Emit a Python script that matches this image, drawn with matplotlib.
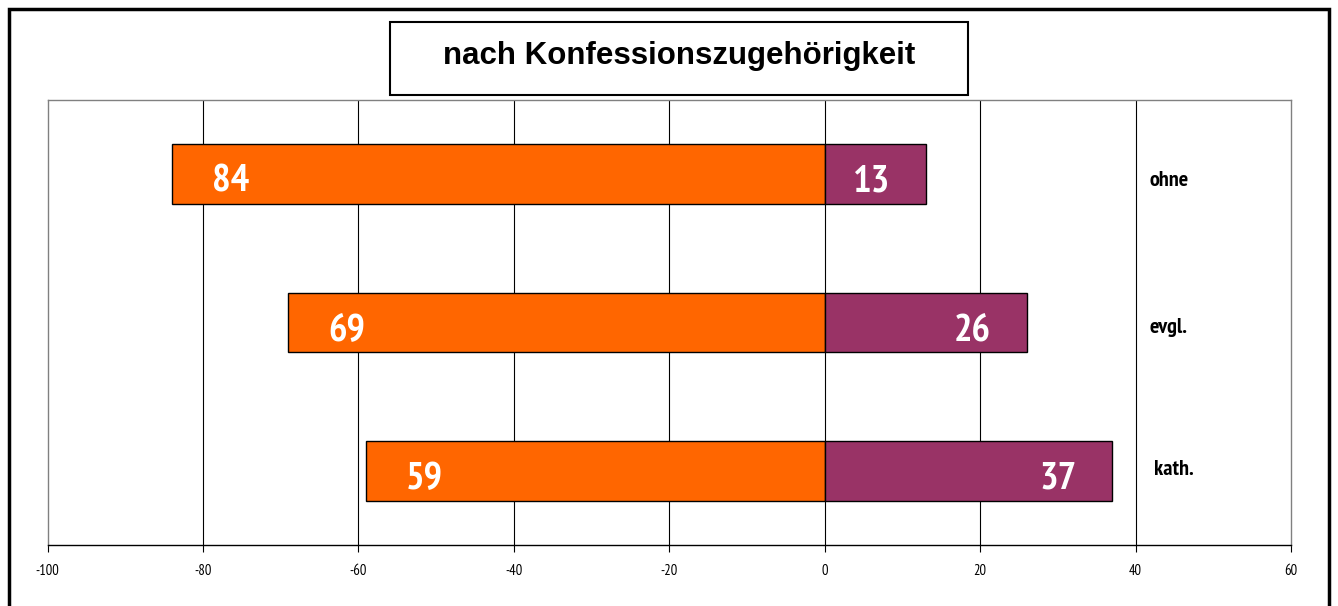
import matplotlib
matplotlib.use("Agg")
import matplotlib.pyplot as plt
from matplotlib.patches import Rectangle
from matplotlib import font_manager as fm

categories = ["ohne", "evgl.", "kath."]
left_values = [-84, -69, -59]
right_values = [13, 26, 37]
xticks = [-100, -80, -60, -40, -20, 0, 20, 40, 60]
title = "nach Konfessionszugehörigkeit"

ORANGE = "#FF6600"
PURPLE = "#993366"
SANS = ["Liberation Sans", "DejaVu Sans"]

_avail = {f.name for f in fm.fontManager.ttflist}
_cands = ["Liberation Sans Narrow", "Arial Narrow", "PT Sans Narrow",
          "Roboto Condensed", "Archivo Narrow", "Asap Condensed"]
NARROW = [c for c in _cands if c in _avail][:1] + SANS

W, H = 1338, 606
fig = plt.figure(figsize=(W / 100, H / 100), dpi=100)

def fx(px):
    return px / W

def fy(py):
    return 1 - py / H

ax = fig.add_axes([fx(47.5), fy(545), fx(1291) - fx(47.5), fy(100) - fy(545)])
ypos = list(range(len(categories)))

ax.set_axisbelow(True)
for t in xticks[1:-1]:
    ax.axvline(t, color="black", lw=0.8, zorder=0)

ax.barh(ypos, left_values, height=0.4, color=ORANGE, edgecolor="black", lw=1.0, zorder=2)
ax.barh(ypos, right_values, height=0.4, color=PURPLE, edgecolor="black", lw=1.0, zorder=2)

for y, lv, rv in zip(ypos, left_values, right_values):
    ax.text(lv + 7.5, y + 0.12, f"{abs(lv)}", ha="center", va="baseline", color="white",
            fontsize=28, fontweight="bold", family=NARROW, zorder=3)
    ax.text(rv - 7.0, y + 0.12, f"{abs(rv)}", ha="center", va="baseline", color="white",
            fontsize=28, fontweight="bold", family=NARROW, zorder=3)

cat_x = [41.8, 41.8, 42.4]
cat_dy = [0.081, 0.068, 0.027]
for y, c, cx, dy in zip(ypos, categories, cat_x, cat_dy):
    ax.text(cx, y + dy, c, ha="left", va="baseline", fontsize=16, fontweight="bold",
            family=NARROW, color="black")

ax.set_xlim(-100, 60)
ax.set_ylim(2.5, -0.5)
ax.set_xticks(xticks)
ax.set_xticklabels([str(t) for t in xticks], family=NARROW, fontsize=10.5)
ax.set_yticks([])
ax.tick_params(axis="x", direction="out", length=5, width=0.8, color="black", pad=9)
for s in ["top", "left", "right"]:
    ax.spines[s].set_color("#808080")
    ax.spines[s].set_linewidth(1.0)
ax.spines["bottom"].set_color("black")
ax.spines["bottom"].set_linewidth(1.0)

# title box
fig.patches.append(Rectangle((fx(390), fy(95)), fx(968) - fx(390), fy(22) - fy(95),
                             transform=fig.transFigure, fill=True, facecolor="white",
                             edgecolor="black", lw=1.5, zorder=5))
fig.text(fx(679), fy(56), title, ha="center", va="center", fontsize=22.5,
         fontweight="bold", family=SANS, zorder=6)

# outer border
fig.patches.append(Rectangle((fx(9), fy(640)), fx(1329) - fx(9), fy(8.5) - fy(640),
                             transform=fig.transFigure, fill=False, edgecolor="black",
                             lw=2.5, zorder=10))

fig.savefig("out.png", dpi=100)
